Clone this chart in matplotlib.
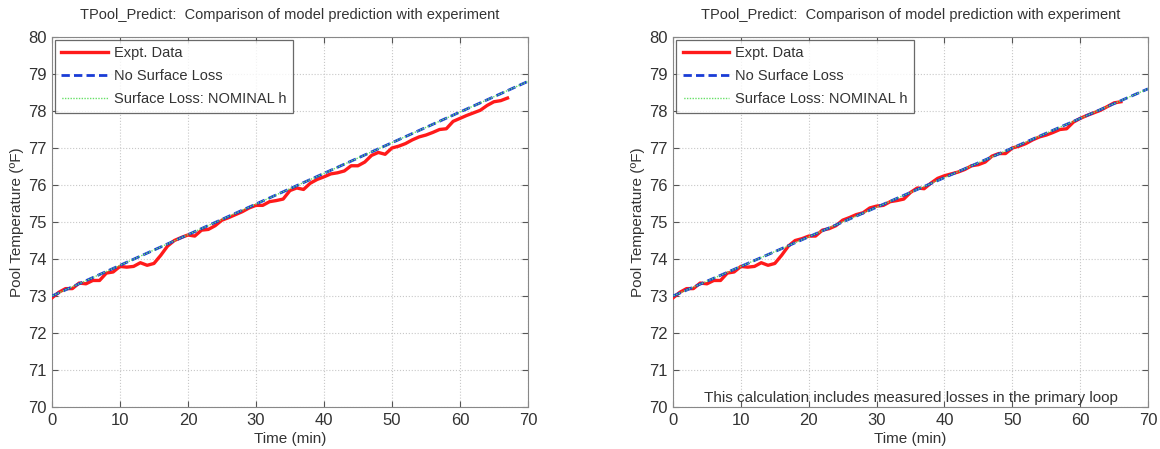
import matplotlib
matplotlib.use("Agg")
import matplotlib.pyplot as plt

plt.rcParams['font.family'] = ['Liberation Sans', 'DejaVu Sans']

title = "TPool_Predict:  Comparison of model prediction with experiment"
xlabel = "Time (min)"
ylabel = "Pool Temperature (\u00baF)"
legend_labels = ["Expt. Data", "No Surface Loss", "Surface Loss: NOMINAL h"]
note = "This calculation includes measured losses in the primary loop"

# Left panel
t_left = list(range(0, 68))
expt_left = [72.95, 73.10, 73.20, 73.20, 73.35, 73.33, 73.42, 73.42, 73.62, 73.65,
             73.80, 73.78, 73.80, 73.90, 73.83, 73.88, 74.10, 74.35, 74.50, 74.58,
             74.65, 74.62, 74.78, 74.80, 74.90, 75.05, 75.12, 75.20, 75.28, 75.38,
             75.45, 75.45, 75.55, 75.58, 75.62, 75.85, 75.92, 75.88, 76.05, 76.15,
             76.22, 76.30, 76.33, 76.38, 76.52, 76.52, 76.62, 76.80, 76.88, 76.83,
             77.00, 77.05, 77.12, 77.22, 77.30, 77.35, 77.42, 77.50, 77.52, 77.72,
             77.80, 77.88, 77.95, 78.02, 78.15, 78.25, 78.28, 78.35]
t_model = [0, 70]
nosurf_left = [73.0, 78.8]
nominal_left = [73.0, 78.8]

# Right panel
t_right = list(range(0, 67))
expt_right = [72.95, 73.10, 73.20, 73.20, 73.35, 73.33, 73.42, 73.42, 73.62, 73.65,
              73.80, 73.78, 73.80, 73.90, 73.83, 73.88, 74.10, 74.35, 74.50, 74.55,
              74.62, 74.62, 74.78, 74.82, 74.90, 75.05, 75.12, 75.20, 75.25, 75.38,
              75.43, 75.45, 75.55, 75.58, 75.62, 75.80, 75.92, 75.90, 76.05, 76.18,
              76.25, 76.30, 76.35, 76.42, 76.52, 76.55, 76.62, 76.78, 76.85, 76.85,
              77.00, 77.05, 77.12, 77.22, 77.30, 77.35, 77.42, 77.50, 77.52, 77.70,
              77.80, 77.88, 77.95, 78.02, 78.12, 78.22, 78.25]
nosurf_right = [73.0, 78.6]
nominal_right = [73.0, 78.6]

xticks = [0, 10, 20, 30, 40, 50, 60, 70]
yticks = [70, 71, 72, 73, 74, 75, 76, 77, 78, 79, 80]

fig = plt.figure(figsize=(11.6, 4.49), dpi=100)
ax1 = fig.add_axes([0.0448, 0.0935, 0.4103, 0.8241])
ax2 = fig.add_axes([0.5802, 0.0935, 0.4095, 0.8241])

txtc = '#333333'
panels = [(ax1, t_left, expt_left, nosurf_left, nominal_left, False),
          (ax2, t_right, expt_right, nosurf_right, nominal_right, True)]
for ax, t, e, ns, nm, has_note in panels:
    ax.plot(t, e, color='#ff1a1a', lw=2.4, label=legend_labels[0], zorder=3)
    ax.plot(t_model, ns, color='#1a3cd6', lw=2.0, ls=(0, (3, 1.5)), label=legend_labels[1], zorder=4)
    ax.plot(t_model, nm, color='#66e066', lw=1.0, ls=(1.5, (1, 1)), label=legend_labels[2], zorder=5)
    ax.set_xlim(0, 70)
    ax.set_ylim(70, 80)
    ax.set_xticks(xticks)
    ax.set_yticks(yticks)
    ax.grid(True, color='#c8c8c8', ls=':', lw=0.8)
    ax.tick_params(direction='in', top=True, right=True, labelsize=12, colors='#555555',
                   labelcolor=txtc, length=4, pad=4)
    for s in ax.spines.values():
        s.set_color('#888888')
    ax.set_title(title, fontsize=10.5, color=txtc, pad=13)
    ax.set_xlabel(xlabel, fontsize=11, color=txtc, labelpad=3)
    ax.set_ylabel(ylabel, fontsize=11, color=txtc, labelpad=3)
    leg = ax.legend(loc='upper left', fontsize=10.5, frameon=True, fancybox=False,
                    borderaxespad=0.2, handlelength=3.2, handletextpad=0.4,
                    labelspacing=0.6, borderpad=0.45)
    leg.get_frame().set_edgecolor('#444444')
    leg.get_frame().set_linewidth(0.9)
    for tx in leg.get_texts():
        tx.set_color(txtc)
    if has_note:
        ax.text(35, 70.25, note, ha='center', va='center', fontsize=11, color=txtc)

fig.savefig('out.png', dpi=100)
